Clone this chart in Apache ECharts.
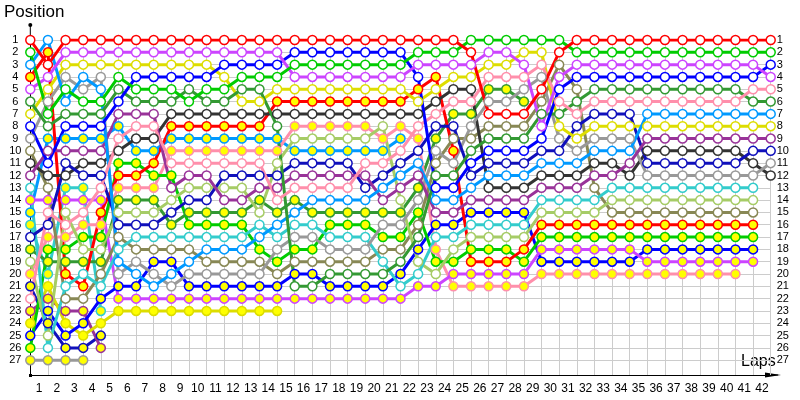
<!DOCTYPE html>
<html>
<head>
<meta charset="utf-8">
<script src="https://cdn.jsdelivr.net/npm/echarts@6/dist/echarts.min.js"></script>
<style>
html, body { margin: 0; padding: 0; background: #fff; }
#chart { width: 800px; height: 400px; }
</style>
</head>
<body>
<div id="chart"></div>
<script>
// lap 0 = starting grid, then laps 1..42
const lapIdx = Array.from({ length: 43 }, (_, i) => String(i));
const lapLabels = Array.from({ length: 42 }, (_, i) => String(i + 1));

// race positions per lap (index = lap), null = retired
const R   = [1,3,1,1,1,1,1,1,1,1,1,1,1,1,1,1,1,1,1,1,1,1,1,1,1,2,7,7,7,5,2,1,1,1,1,1,1,1,1,1,1,1,1];
const G   = [2,7,5,6,6,4,5,5,5,6,5,5,4,4,4,3,3,3,3,3,3,3,2,2,2,1,1,1,1,1,1,2,2,2,2,2,2,2,2,2,2,2,2];
const V   = [5,4,2,2,2,2,2,2,2,2,2,2,2,2,2,4,4,4,4,4,4,4,3,3,3,3,2,2,3,8,4,3,3,3,3,3,3,3,3,3,3,3,4];
const B   = [8,11,8,8,8,6,4,4,4,4,4,3,3,3,3,2,2,2,2,2,2,2,4,13,13,11,10,10,10,9,5,4,4,4,4,4,4,4,4,4,4,4,3];
const P   = [22,15,16,15,13,9,8,8,11,11,11,11,11,11,14,13,13,13,13,11,11,10,8,7,6,6,4,4,4,3,6,7,6,6,6,6,6,6,6,6,6,5,5];
const DG  = [6,8,7,7,7,5,6,6,6,5,6,6,5,5,8,21,21,20,20,20,20,19,17,12,12,10,9,9,9,7,7,6,5,5,5,5,5,5,5,5,5,6,6];
const LB  = [3,1,6,4,5,19,20,21,20,19,18,18,18,17,16,15,14,14,14,14,13,12,11,14,14,13,12,12,12,11,11,11,10,10,10,7,7,7,7,7,7,7,7];
const Y   = [7,5,3,3,3,3,3,3,3,3,3,4,6,6,5,5,5,5,5,5,5,5,6,5,4,4,3,3,2,2,8,9,8,8,8,8,8,8,8,8,8,8,8];
const PU  = [12,10,10,10,10,7,7,7,13,12,12,14,14,13,13,12,12,12,12,12,14,13,12,15,15,14,14,14,14,13,13,13,12,12,11,9,9,9,9,9,9,9,9];
const N   = [17,16,11,12,12,16,16,16,15,14,14,12,12,12,12,11,11,11,11,13,12,11,10,8,8,12,11,11,11,10,10,8,7,7,7,11,11,11,11,11,11,10,10];
const GR  = [9,6,4,5,4,20,19,20,21,20,20,20,20,20,18,17,17,18,18,18,16,16,14,10,11,8,6,6,5,4,9,10,9,9,9,12,12,12,12,12,12,12,11];
const DK  = [11,12,12,11,11,10,9,9,7,7,7,7,7,7,7,7,7,7,7,7,7,7,7,6,5,5,13,13,13,12,12,12,11,11,12,10,10,10,10,10,10,11,12];
const C   = [13,26,21,20,21,18,17,17,17,17,17,17,17,16,17,16,16,17,17,17,19,21,20,17,17,16,16,16,16,14,14,14,14,13,13,13,13,13,13,13,13,13,null];
const LG  = [19,25,15,18,18,15,15,15,14,13,13,13,13,15,11,9,9,9,9,9,8,14,19,20,18,17,17,17,17,15,15,15,15,14,14,14,14,14,14,14,14,14,null];
const O   = [10,13,22,22,20,17,18,18,18,18,19,19,19,19,20,19,19,19,19,19,18,18,16,11,9,9,8,8,8,6,3,5,13,15,15,15,15,15,15,15,15,15,null];
const RY  = [4,2,20,21,15,12,12,11,8,8,8,8,8,8,6,6,6,6,6,6,6,6,5,4,10,19,19,19,18,16,16,16,16,16,16,16,16,16,16,16,16,16,null];
const GY  = [26,18,18,17,17,11,11,12,12,16,16,16,16,18,19,18,18,16,16,16,17,17,15,19,19,18,18,18,19,17,17,17,17,17,17,17,17,17,17,17,17,17,null];
const VY  = [14,14,14,14,14,22,22,22,22,22,22,22,22,22,22,22,22,22,22,22,22,22,21,21,20,20,20,20,20,18,18,18,18,18,18,19,19,19,19,19,19,19,null];
const BY  = [25,23,25,24,22,21,21,19,19,21,21,21,21,21,21,20,20,21,21,21,21,20,18,16,16,15,15,15,15,19,19,19,19,19,19,18,18,18,18,18,18,18,null];
const PY  = [20,17,17,16,16,13,13,13,10,10,10,10,10,10,10,8,8,8,8,8,9,8,9,18,21,21,21,21,21,20,20,20,20,20,20,20,20,20,20,20,20,null,null];
const DGY = [18,19,19,19,19,14,14,14,16,15,15,15,15,14,15,14,15,15,15,15,15,15,13,9,7,7,5,5,6];
const LBY = [15,9,9,9,9,8,10,10,9,9,9,9,9,9,9,10,10,10,10,10,10,9];
const YY  = [24,21,24,25,24,23,23,23,23,23,23,23,23,23,23];
const CY  = [16,20,13,13,23];
const PUY = [23,22,23,23,26];
const NY  = [21,24,26,26,25];
const GRY = [27,27,27,27];

const posLabels = Array.from({ length: 27 }, (_, i) => i + 1);

const FONT = 'Liberation Sans, Arial, sans-serif';
const WHITE = '#ffffff';
const YELL = '#ffff00';

// [data, line colour, marker fill]
const drivers = [
  [GRY, '#999999', YELL], [NY, '#1010bb', YELL], [PUY, '#993399', YELL], [CY, '#33cccc', YELL],
  [YY, '#dddd00', YELL], [LBY, '#0099ff', YELL], [DGY, '#339933', YELL],
  [PY, '#ff8fab', YELL], [BY, '#0000ff', YELL], [VY, '#cc44ff', YELL], [GY, '#00cc00', YELL], [RY, '#ff0000', YELL],
  [O, '#888855', WHITE], [LG, '#a6cc66', WHITE], [C, '#33cccc', WHITE], [DK, '#333333', WHITE], [GR, '#999999', WHITE],
  [N, '#1010bb', WHITE], [PU, '#993399', WHITE], [Y, '#dddd00', WHITE], [LB, '#0099ff', WHITE], [DG, '#339933', WHITE],
  [P, '#ff8fab', WHITE], [B, '#0000ff', WHITE], [V, '#cc44ff', WHITE], [G, '#00cc00', WHITE], [R, '#ff0000', WHITE]
];

const hLineColors = Array(27).fill('#cccccc').concat(['rgba(0,0,0,0)', 'rgba(0,0,0,0)']);

const chart = echarts.init(document.getElementById('chart'));
chart.setOption({
  animation: false,
  backgroundColor: '#fff',
  grid: { left: 30.3, right: 29.3, top: 40, bottom: 25 },
  xAxis: [
    {
      type: 'category', data: lapIdx, boundaryGap: false,
      axisLine: { lineStyle: { color: '#000', width: 1 } },
      axisTick: { show: false }, axisLabel: { show: false },
      splitLine: { show: true, lineStyle: { color: '#cccccc', width: 1 } }
    },
    {
      type: 'category', data: lapLabels, boundaryGap: true, position: 'bottom',
      axisLine: { show: false }, axisTick: { show: false }, splitLine: { show: false },
      axisLabel: { color: '#000', fontSize: 12, fontFamily: FONT, margin: 8, interval: 0 }
    }
  ],
  yAxis: [
    {
      type: 'value', inverse: true, min: 1, max: 28.2, interval: 1,
      axisLine: { show: true, lineStyle: { color: '#000', width: 1 } },
      axisTick: { show: false },
      axisLabel: {
        color: '#000', fontSize: 11, fontFamily: FONT, margin: 15, align: 'center',
        formatter: v => (Number.isInteger(v) && v <= 27) ? String(v) : ''
      },
      splitLine: { show: true, lineStyle: { color: hLineColors, width: 1 } }
    },
    {
      type: 'value', inverse: true, min: 1, max: 28.2, interval: 1, position: 'right',
      axisLine: { show: false }, axisTick: { show: false }, splitLine: { show: false },
      axisLabel: {
        color: '#000', fontSize: 11, fontFamily: FONT, margin: 6, align: 'left',
        formatter: v => (Number.isInteger(v) && posLabels.includes(v)) ? String(v) : ''
      }
    }
  ],
  graphic: [
    { type: 'line', shape: { x1: 30.3, y1: 25, x2: 30.3, y2: 40 }, style: { stroke: '#000', lineWidth: 1 } },
    { type: 'circle', shape: { cx: 30.3, cy: 25, r: 2 }, style: { fill: '#000' } },
    { type: 'rect', shape: { x: 29, y: 374, width: 3, height: 3 }, style: { fill: '#000' } },
    { type: 'line', shape: { x1: 770, y1: 375, x2: 778, y2: 375 }, style: { stroke: '#000', lineWidth: 1 } },
    { type: 'polygon', shape: { points: [[765, 372.5], [781, 375], [765, 377.5]] }, style: { fill: '#000' } },
    { type: 'text', left: 4, top: 4, style: { text: 'Position', fontSize: 17, fontFamily: FONT, fill: '#000' } },
    { type: 'text', left: 741, top: 354, style: { text: 'Laps', fontSize: 16, fontFamily: FONT, fill: '#000' } }
  ],
  series: drivers.map(([data, color, fill]) => ({
    type: 'line',
    data: data,
    xAxisIndex: 0,
    yAxisIndex: 0,
    symbol: 'circle',
    symbolSize: 9,
    showSymbol: true,
    lineStyle: { color: color, width: 3 },
    itemStyle: { color: fill, borderColor: color, borderWidth: 1.5 },
    emphasis: { disabled: true },
    silent: true
  }))
});
</script>
</body>
</html>
